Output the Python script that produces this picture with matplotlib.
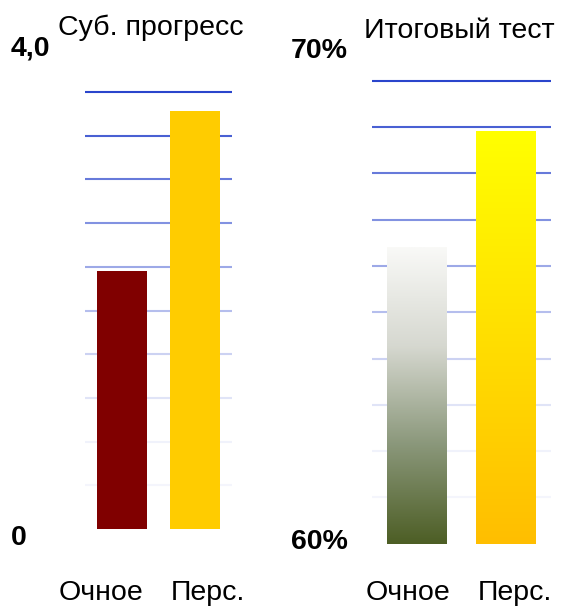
import numpy as np
import matplotlib.pyplot as plt
from matplotlib.colors import LinearSegmentedColormap

plt.rcParams['font.family'] = ['Liberation Sans', 'DejaVu Sans']

# -----------------------------------------------------------------------------
# Data

categories = ['Очное', 'Перс.']
subj_values = [2.36, 3.83]
test_values = [66.4, 68.9]

subj_title = 'Суб. прогресс'
test_title = 'Итоговый тест'
subj_limits = (0, 4.0)
test_limits = (60, 70)
subj_ticklabels = ['0', '4,0']
test_ticklabels = ['60%', '70%']

# -----------------------------------------------------------------------------

W, H = 564, 606
fig = plt.figure(figsize=(W / 100, H / 100), dpi=100)


def px_axes(x0, x1, ytop, ybot):
    return fig.add_axes([x0 / W, 1 - ybot / H, (x1 - x0) / W, (ybot - ytop) / H])


def grid_lines(ax, lo, hi):
    levels = np.linspace(lo, hi, 11)[1:]
    alphas = np.linspace(0.04, 1.0, 10) ** 1.4
    for lev, a in zip(levels, alphas):
        ax.axhline(lev, color='#2a45cc', alpha=max(a, 0.05), lw=1.5,
                   zorder=0, clip_on=False, solid_capstyle='butt')


def clean(ax, lims):
    ax.set_xlim(-0.5, 1.5)
    ax.set_ylim(*lims)
    ax.axis('off')


fs = 20.5

# Left panel -------------------------------------------------------------------
ax1 = px_axes(85, 232, 92, 529)
grid_lines(ax1, *subj_limits)
ax1.bar([0, 1], subj_values, width=0.675, color=['#800000', '#ffcc00'], zorder=2)
clean(ax1, subj_limits)

# Right panel ------------------------------------------------------------------
ax2 = px_axes(372, 551, 80.7, 543.7)
grid_lines(ax2, *test_limits)
cmaps = [LinearSegmentedColormap.from_list('g1', ['#4d5e25', '#8a977a', '#d6d8d0', '#f9f9f7']),
         LinearSegmentedColormap.from_list('g2', ['#ffbe00', '#ffff00'])]
bw = 0.67
grad = np.linspace(0, 1, 256).reshape(-1, 1)
for i, (v, cm) in enumerate(zip(test_values, cmaps)):
    ax2.imshow(grad, cmap=cm, origin='lower', aspect='auto',
               extent=[i - bw / 2, i + bw / 2, test_limits[0], v], zorder=2)
clean(ax2, test_limits)

# Texts ------------------------------------------------------------------------
def ftext(x, y, s, **kw):
    fig.text(x / W, 1 - y / H, s, fontsize=fs, **kw)

ftext(58, 28, subj_title, ha='left', va='center')
ftext(364, 31, test_title, ha='left', va='center')

ftext(30, 49, subj_ticklabels[1], ha='center', va='center', fontweight='bold')
ftext(19, 538, subj_ticklabels[0], ha='center', va='center', fontweight='bold')
ftext(319, 51, test_ticklabels[1], ha='center', va='center', fontweight='bold')
ftext(319, 542, test_ticklabels[0], ha='center', va='center', fontweight='bold')

for x, lab in zip([101, 208], categories):
    ftext(x, 593, lab, ha='center', va='center')
for x, lab in zip([408, 515], categories):
    ftext(x, 593, lab, ha='center', va='center')

fig.savefig('out.png', dpi=100)
